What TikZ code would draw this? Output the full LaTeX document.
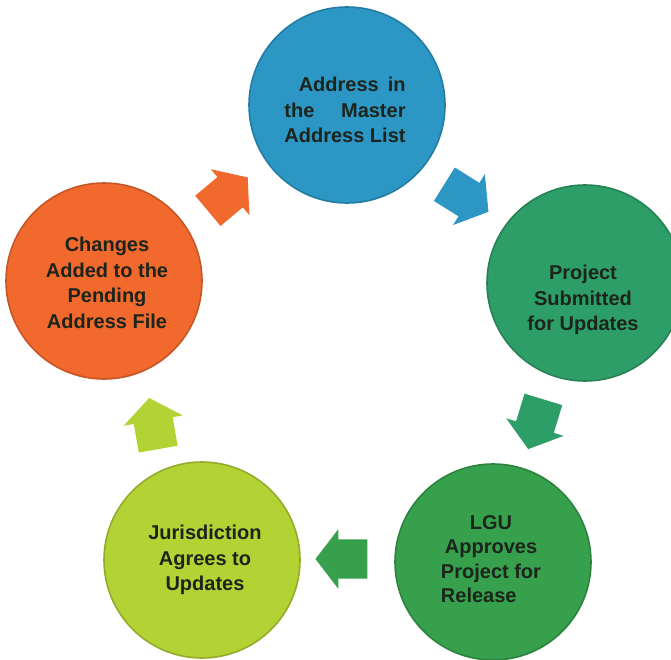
\documentclass[tikz,border=0pt]{standalone}
\usepackage{fontspec}
\setmainfont{Liberation Sans}
\usepackage{calc}
\usetikzlibrary{shapes.arrows}
\definecolor{cblue}{HTML}{2C97C5}
\definecolor{cgreen}{HTML}{2E9E68}
\definecolor{cdkgreen}{HTML}{36A04C}
\definecolor{cyellow}{HTML}{B3D234}
\definecolor{corange}{HTML}{F1692D}
\definecolor{txt}{HTML}{1C241C}
\begin{document}
\begin{tikzpicture}[x=1pt,y=-1pt,
  ball/.style={circle, minimum size=196pt, inner sep=0pt, fill=#1, draw=#1!82!black, line width=1.6pt},
  lbl/.style={font=\bfseries\fontsize{20}{25.5}\selectfont, text=txt, align=center, inner sep=0pt},
  blockarrow/.style={single arrow, fill=#1, minimum width=60pt, minimum height=52pt,
    single arrow head extend=10pt, single arrow tip angle=105, inner sep=0pt}]
\useasboundingbox (0,0) rectangle (671,660);
\clip (0,0) rectangle (671,660);
\fill[white] (0,0) rectangle (671,660);
% circles
\node[ball=cblue]    (master)  at (347,105) {};
\node[ball=cgreen]   (project) at (585,283) {};
\node[ball=cdkgreen] (lgu)     at (493,562) {};
\node[ball=cyellow]  (juris)   at (202,560) {};
\node[ball=corange]  (changes) at (104,281) {};
% texts
\node[lbl] (masterT) at (345,110)
  {\makebox[\widthof{Address List}][r]{Address\hspace{9pt}in}\\
   \makebox[\widthof{Address List}][s]{the\hfill Master}\\
   Address List};
\node[lbl] (projectT) at (583,300) {Project\\Submitted\\for Updates};
\node[lbl] (lguT) at (491,561)
  {\begin{tabular}{@{}l@{}}\multicolumn{1}{@{}c@{}}{LGU}\\[-1pt]
   \multicolumn{1}{@{}c@{}}{Approves}\\[-1pt] Project for\\[-1pt] Release\end{tabular}};
\node[lbl] (jurisT) at (205,560) {Jurisdiction\\Agrees to\\Updates};
\node[lbl] (changesT) at (107,283) {Changes\\Added to the\\Pending\\Address File};
% block arrows
\node[blockarrow=cblue,    rotate=-32]  (a1) at (460,194) {\rule{0pt}{38pt}};
\node[blockarrow=cgreen,   rotate=-107] (a2) at (538,417) {\rule{0pt}{38pt}};
\node[blockarrow=cdkgreen, rotate=180]  (a3) at (349,559) {\rule{0pt}{38pt}};
\node[blockarrow=cyellow,  rotate=100]  (a4) at (155,431) {\rule{0pt}{38pt}};
\node[blockarrow=corange,  rotate=40]   (a5) at (222,199) {\rule{0pt}{38pt}};
\end{tikzpicture}
\end{document}
